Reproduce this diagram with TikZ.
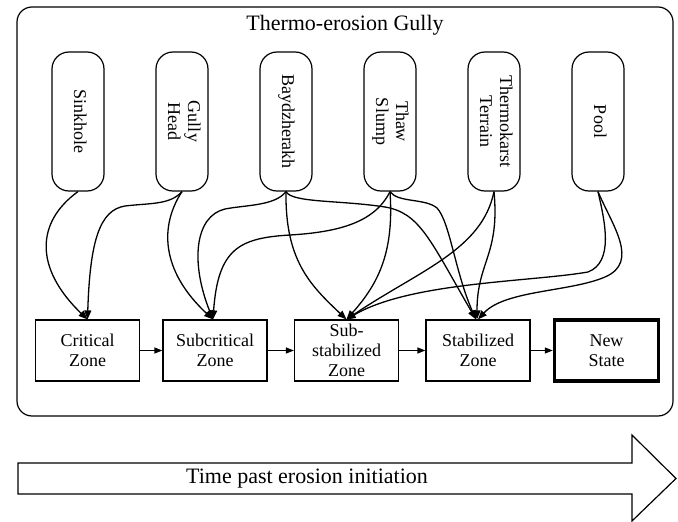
\documentclass[tikz,border=0pt]{standalone}
\usepackage{fontspec}
\setmainfont{Liberation Serif}
\usepackage{graphicx}
\usetikzlibrary{arrows.meta}

\newcommand{\vtext}[1]{\rotatebox{-90}{\begin{tabular}{@{}c@{}}#1\end{tabular}}}

\begin{document}
\begin{tikzpicture}[x=1pt,y=-1pt]
        \tikzstyle{every node}=[font=\fontsize{18}{20}\selectfont]
        \tikzstyle{landform}=[draw,line width=1.2pt,rounded corners=17pt,minimum width=52pt,minimum height=139pt,inner sep=0pt]
        \tikzstyle{zone}=[draw,line width=1.2pt,minimum width=104pt,minimum height=61pt,inner sep=0pt,align=center]
        \tikzstyle{flow}=[-{Triangle[length=9pt,width=7pt]},line width=1.3pt]
        \useasboundingbox (0,0) rectangle (678,522);
        \node[draw,line width=1.2pt,rounded corners=15pt,minimum width=656pt,minimum height=409pt] (gully) at (345,211.5) {};
        \node[font=\fontsize{22}{26}\selectfont] (title) at (345,25) {Thermo-erosion Gully};
        % landforms
        \node[landform] (sink) at (78,121.5) {\vtext{Sinkhole}};
        \node[landform] (head) at (182,121.5) {\vtext{Gully\\Head}};
        \node[landform] (bayd) at (286,121.5) {\vtext{Baydzherakh}};
        \node[landform] (slump) at (390,121.5) {\vtext{Thaw\\Slump}};
        \node[landform] (thermo) at (494,121.5) {\vtext{Thermokarst\\Terrain}};
        \node[landform] (pool) at (598,121.5) {\vtext{Pool}};
        % zones
        \node[zone] (crit) at (87.5,350.5) {Critical\\Zone};
        \node[zone] (subcrit) at (215,350.5) {Subcritical\\Zone};
        \node[zone] (substab) at (346.5,350.5) {Sub-\\stabilized\\Zone};
        \node[zone] (stab) at (478,350.5) {Stabilized\\Zone};
        \node[zone,line width=3.5pt] (new) at (606.5,350.5) {New\\State};
        \draw[-{Triangle[length=8pt,width=6pt]},line width=1.2pt] (crit) -- (subcrit);
        \draw[-{Triangle[length=8pt,width=6pt]},line width=1.2pt] (subcrit) -- (substab);
        \draw[-{Triangle[length=8pt,width=6pt]},line width=1.2pt] (substab) -- (stab);
        \draw[-{Triangle[length=8pt,width=6pt]},line width=1.2pt] (stab) -- (new);
        % landform -> zone
        \draw[flow] (sink.south) .. controls (36,222) and (34,268) .. (crit.north);
        \draw[flow] (head.south) .. controls (170,205) and (150,203) .. (125,206) .. controls (100,210) and (90,240) .. (crit.north);
        \draw[flow] (head.south) .. controls (160,225) and (160,270) .. ([xshift=-2pt]subcrit.north);
        \draw[flow] (bayd.south) .. controls (275,206) and (245,205) .. (225,209) .. controls (195,216) and (190,262) .. ([xshift=-2pt]subcrit.north);
        \draw[flow] (slump.south) .. controls (375,222) and (340,232) .. (290,235) .. controls (240,238) and (218,248) .. ([xshift=-2pt]subcrit.north);
        \draw[flow] (bayd.south) .. controls (285,260) and (310,285) .. (substab.north);
        \draw[flow] (bayd.south) .. controls (292,203) and (340,200) .. (385,207) .. controls (420,213) and (430,240) .. ([xshift=-2pt]stab.north);
        \draw[flow] (slump.south) .. controls (394,250) and (380,282) .. (substab.north);
        \draw[flow] (slump.south) .. controls (398,203) and (425,198) .. (437,208) .. controls (450,222) and (455,272) .. ([xshift=-2pt]stab.north);
        \draw[flow] (thermo.south) .. controls (482,250) and (420,270) .. (substab.north);
        \draw[flow] (thermo.south) .. controls (500,255) and (477,262) .. ([xshift=-1pt]stab.north);
        \draw[flow] (pool.south) .. controls (605,222) and (614,262) .. (588,272) .. controls (530,282) and (410,282) .. (substab.north);
        \draw[flow] (pool.south) .. controls (612,225) and (640,262) .. (605,277) .. controls (570,292) and (505,290) .. (stab.north);
        % time arrow
        \draw[line width=1.2pt] (18,463) -- (632,463) -- (632,435) -- (676,478.5) -- (632,521) -- (632,494) -- (18,494) -- cycle;
        \node[font=\fontsize{22}{26}\selectfont] (time) at (307,478.5) {Time past erosion initiation};
\end{tikzpicture}
\end{document}
